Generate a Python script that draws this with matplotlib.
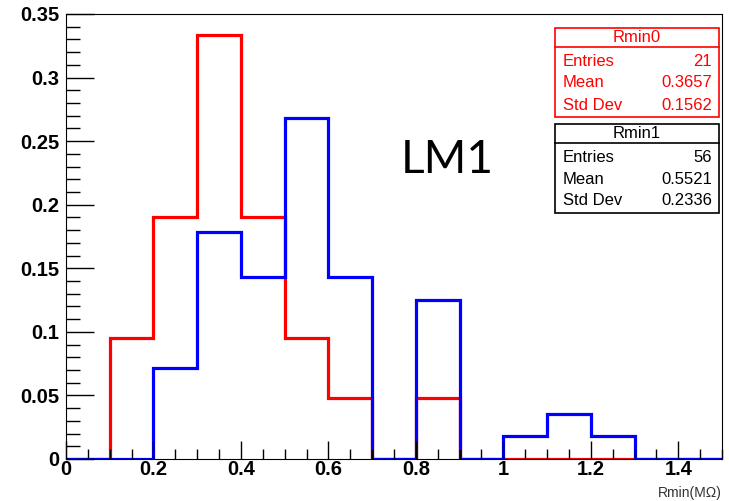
import numpy as np
import matplotlib
matplotlib.use("Agg")
import matplotlib.pyplot as plt
from matplotlib.patches import Rectangle
from matplotlib.lines import Line2D
from matplotlib.ticker import MultipleLocator, FuncFormatter

# 히스토그램 데이터 (bin 폭 0.1, 0 ~ 1.5)
bin_edges = np.round(np.arange(0, 1.51, 0.1), 2)
rmin0 = [0, 0.0952, 0.1905, 0.3333, 0.1905, 0.0952, 0.0476, 0, 0.0476, 0, 0, 0, 0, 0, 0]
rmin1 = [0, 0, 0.0714, 0.1786, 0.1429, 0.2679, 0.1429, 0, 0.125, 0, 0.0179, 0.0357, 0.0179, 0, 0]

stats_labels = ["Entries", "Mean", "Std Dev"]
rmin0_stats = ["21", "0.3657", "0.1562"]
rmin1_stats = ["56", "0.5521", "0.2336"]

W, H = 729, 501
fig = plt.figure(figsize=(W / 100, H / 100), dpi=100)
ax = fig.add_axes([66 / W, 1 - 459 / H, (722 - 66) / W, (459 - 14) / H])

ax.stairs(rmin0, bin_edges, color="#ff0000", lw=2.3)
ax.stairs(rmin1, bin_edges, color="#0000ff", lw=2.3)

ax.set_xlim(0, 1.5)
ax.set_ylim(0, 0.35)
ax.xaxis.set_major_locator(MultipleLocator(0.2))
ax.xaxis.set_minor_locator(MultipleLocator(0.05))
ax.yaxis.set_major_locator(MultipleLocator(0.05))
ax.yaxis.set_minor_locator(MultipleLocator(0.01))
fmt = FuncFormatter(lambda v, p: "%g" % round(v, 3))
ax.xaxis.set_major_formatter(fmt)
ax.yaxis.set_major_formatter(fmt)
ax.tick_params(axis="y", which="major", direction="in", length=20, width=1, pad=5)
ax.tick_params(axis="y", which="minor", direction="in", length=10, width=1)
ax.tick_params(axis="x", which="major", direction="in", length=13, width=1, pad=1)
ax.tick_params(axis="x", which="minor", direction="in", length=7, width=1)

for lab in ax.get_xticklabels() + ax.get_yticklabels():
    lab.set_fontfamily("Liberation Sans")
    lab.set_fontweight("bold")
    lab.set_fontsize(14.5)

fig.text(722 / W, 1 - 493 / H, "Rmin(M\u03a9)", ha="right", va="center",
         fontsize=10, family="Liberation Sans", color="#333333")

fig.text(447 / W, 1 - 160 / H, "LM1", ha="center", va="center",
         fontsize=33, family="Lato")


# 통계 박스 (ROOT 스타일)
def stats_box(top, name, values, color):
    x0, x1 = 555, 719
    bottom = top + 89
    sep = top + 19
    fig.patches.append(Rectangle((x0 / W, 1 - bottom / H), (x1 - x0) / W, (bottom - top) / H,
                                 transform=fig.transFigure, fill=True, facecolor="white",
                                 edgecolor=color, lw=1.2))
    fig.lines.append(Line2D([x0 / W, x1 / W], [1 - sep / H, 1 - sep / H],
                            transform=fig.transFigure, color=color, lw=1.2))
    fig.text((x0 + x1) / 2 / W, 1 - (top + 10) / H, name, ha="center", va="center",
             fontsize=12, family="Liberation Sans", color=color)
    for i, (lab, val) in enumerate(zip(stats_labels, values)):
        y = 1 - (top + 33 + 22 * i) / H
        fig.text((x0 + 8) / W, y, lab, ha="left", va="center",
                 fontsize=12, family="Liberation Sans", color=color)
        fig.text((x1 - 7) / W, y, val, ha="right", va="center",
                 fontsize=12, family="Liberation Sans", color=color)


stats_box(28, "Rmin0", rmin0_stats, "#ff0000")
stats_box(124, "Rmin1", rmin1_stats, "black")

fig.savefig("out.png", dpi=100)
